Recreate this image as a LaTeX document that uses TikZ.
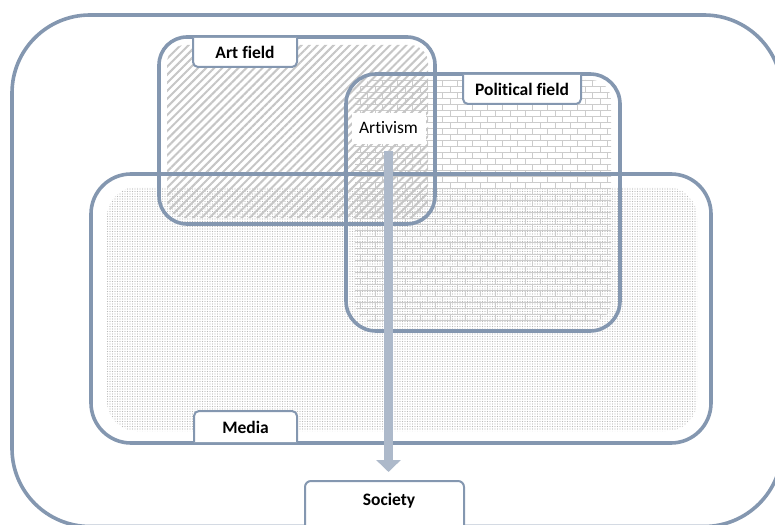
\documentclass[tikz,border=0pt]{standalone}
\usepackage{fontspec}
\setmainfont{Carlito}[Ligatures=NoCommon]
\usetikzlibrary{patterns.meta,arrows.meta}
\definecolor{bordc}{HTML}{8497B0}
\definecolor{arrc}{HTML}{ADB9CA}
\pgfdeclarepattern{
  name=mybricks,
  type=uncolored,
  bottom left={\pgfpoint{-1pt}{-1pt}},
  top right={\pgfpoint{16pt}{13pt}},
  tile size={\pgfpoint{15pt}{12pt}},
  code={
    \pgfsetlinewidth{0.8pt}
    \pgfpathmoveto{\pgfpoint{0pt}{0pt}}\pgfpathlineto{\pgfpoint{15pt}{0pt}}
    \pgfpathmoveto{\pgfpoint{0pt}{6pt}}\pgfpathlineto{\pgfpoint{15pt}{6pt}}
    \pgfpathmoveto{\pgfpoint{0pt}{0pt}}\pgfpathlineto{\pgfpoint{0pt}{6pt}}
    \pgfpathmoveto{\pgfpoint{7.5pt}{6pt}}\pgfpathlineto{\pgfpoint{7.5pt}{12pt}}
    \pgfusepath{stroke}
  }
}
\tikzset{
  fieldborder/.style={draw=bordc, line width=3.6pt},
  tabshape/.style={draw=bordc, line width=2pt, fill=white, rounded corners=5pt},
  hatchfill/.style={pattern={Lines[angle=45,distance=5.7pt,line width=2pt]}, pattern color=gray!45},
  brickfill/.style={pattern=mybricks, pattern color=gray!40},
  dotfill/.style={pattern={Dots[radius=0.6pt,distance=2.5pt]}, pattern color=gray!55},
  labeltext/.style={font=\fontsize{17.5}{20}\selectfont\bfseries, inner sep=0pt},
  plaintext/.style={font=\fontsize{17.5}{20}\selectfont, inner sep=0pt},
}
\begin{document}
\begin{tikzpicture}[x=1pt,y=-1pt]
\useasboundingbox (0,0) rectangle (775,524);
\clip (0,0) rectangle (775,524);
% fills
\fill[dotfill, rounded corners=30pt] (107,187) rectangle (697,431);
\fill[brickfill, rounded corners=20pt] (355,80) rectangle (611,322);
\fill[hatchfill, rounded corners=18pt] (167,45) rectangle (428,218);
% Artivism
\node[plaintext, fill=white, minimum width=74pt, minimum height=31pt] (artivism) at (388.5,128) {Artivism};
% borders
\draw[fieldborder, rounded corners=78pt] (12,15) rectangle (782,526.5);
\draw[fieldborder, rounded corners=40pt] (91,174) rectangle (711,443);
\draw[fieldborder, rounded corners=28pt] (159,37) rectangle (435,224);
\draw[fieldborder, rounded corners=30pt] (346,74) rectangle (620,331);
% tabs
\draw[tabshape] (193,38) -- (193,67) -- (297,67) -- (297,38);
\node[labeltext] (art) at (245,52.5) {Art field};
\draw[tabshape] (463,75) -- (463,104) -- (581,104) -- (581,75);
\node[labeltext] (pol) at (522,89.5) {Political field};
\draw[tabshape] (194,442) -- (194,411) -- (297,411) -- (297,442);
\node[labeltext] (media) at (245.5,427.5) {Media};
% society
\node[draw=bordc, line width=2pt, fill=white, rounded corners=6pt, minimum width=159pt, minimum height=60pt, anchor=north] (societybox) at (384.5,480) {};
\node[labeltext] (society) at (389,501) {Society};
% arrow
\draw[arrc, line width=9pt, -{Triangle[width=24pt,length=12pt]}, shorten <=7pt, shorten >=8pt] (artivism.south) -- (artivism.south |- societybox.north);
\end{tikzpicture}
\end{document}
